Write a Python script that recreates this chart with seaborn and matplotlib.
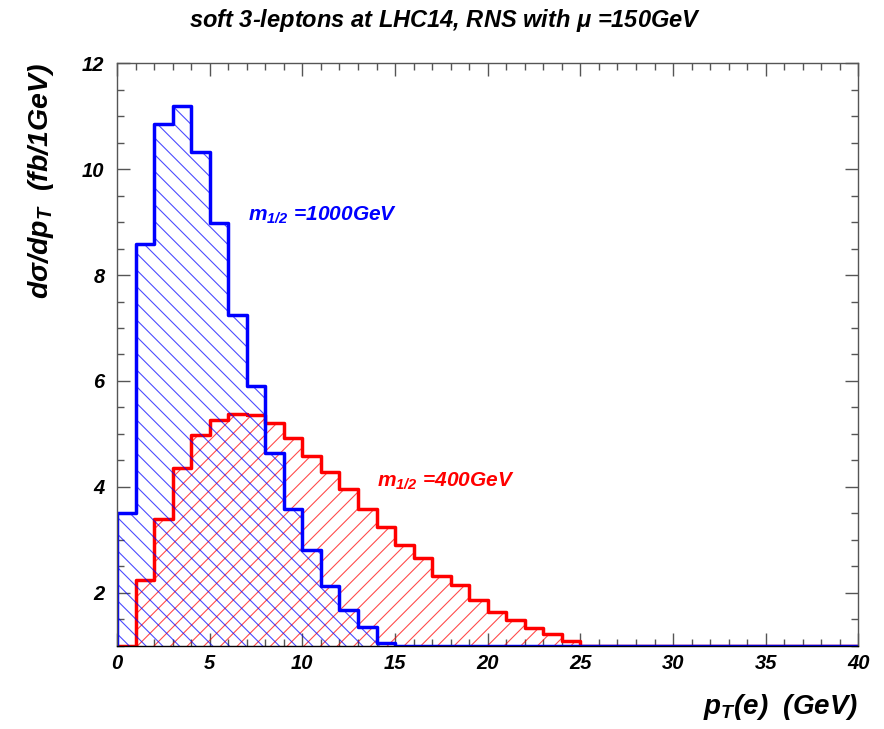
import matplotlib
matplotlib.use('Agg')
import matplotlib.pyplot as plt
import seaborn as sns
import numpy as np
import pandas as pd
from matplotlib.ticker import MultipleLocator

# bins of 1 GeV from 0 to 40
pt_lo, pt_hi = 0, 40
bin_centers = np.arange(pt_lo, pt_hi) + 0.5

# m_1/2 = 1000 GeV (blue) (1.0 = at the bottom of the frame)
dsig_1000 = [3.50, 8.59, 10.86, 11.19, 10.33, 8.98, 7.25, 5.90, 4.63, 3.58,
             2.80, 2.12, 1.67, 1.35, 1.05, 1.0, 1.0, 1.0, 1.0, 1.0,
             1.0, 1.0, 1.0, 1.0, 1.0, 1.0, 1.0, 1.0, 1.0, 1.0,
             1.0, 1.0, 1.0, 1.0, 1.0, 1.0, 1.0, 1.0, 1.0, 1.0]

# m_1/2 = 400 GeV (red)
dsig_400 = [1.0, 2.24, 3.40, 4.35, 4.98, 5.27, 5.38, 5.35, 5.20, 4.93,
            4.59, 4.28, 3.95, 3.59, 3.25, 2.90, 2.65, 2.32, 2.15, 1.87,
            1.64, 1.48, 1.33, 1.22, 1.08, 1.0, 1.0, 1.0, 1.0, 1.0,
            1.0, 1.0, 1.0, 1.0, 1.0, 1.0, 1.0, 1.0, 1.0, 1.0]

x_ticks = [0, 5, 10, 15, 20, 25, 30, 35, 40]
y_ticks = [2, 4, 6, 8, 10, 12]

sns.set_style('ticks')
plt.rcParams['font.family'] = ['Liberation Sans', 'DejaVu Sans']
plt.rcParams['font.weight'] = 'bold'
plt.rcParams['font.style'] = 'italic'
plt.rcParams['axes.labelweight'] = 'bold'
plt.rcParams['text.color'] = 'black'
plt.rcParams['axes.labelcolor'] = 'black'
plt.rcParams['xtick.labelcolor'] = 'black'
plt.rcParams['ytick.labelcolor'] = 'black'
plt.rcParams['mathtext.fontset'] = 'custom'
plt.rcParams['mathtext.rm'] = 'Liberation Sans'
plt.rcParams['mathtext.it'] = 'Liberation Sans:italic:bold'
plt.rcParams['mathtext.bf'] = 'Liberation Sans:bold'
plt.rcParams['mathtext.default'] = 'regular'
plt.rcParams['hatch.linewidth'] = 0.8

fig = plt.figure(figsize=(8.84, 7.29), dpi=100)
ax = fig.add_axes([0.1324, 0.1143, 0.8386, 0.7989])

# red first, blue on top (hatch then outline)
for vals, col, hcol, hatch in [(dsig_400, '#ff0000', (1, 0, 0, 0.7), '//'),
                               (dsig_1000, '#0000ff', (0, 0, 1, 0.7), '\\\\')]:
    df = pd.DataFrame({'pt': bin_centers, 'dsig': vals})
    sns.histplot(data=df, x='pt', weights='dsig', bins=pt_hi - pt_lo,
                 binrange=(pt_lo, pt_hi), element='step', fill=True, color=col,
                 facecolor='none', edgecolor=hcol, linewidth=0, hatch=hatch, ax=ax)
    sns.histplot(data=df, x='pt', weights='dsig', bins=pt_hi - pt_lo,
                 binrange=(pt_lo, pt_hi), element='step', fill=True, color=col,
                 facecolor='none', edgecolor=col, linewidth=2.5, ax=ax)

ax.set_xlim(0, 40)
ax.set_ylim(1, 12)
ax.set_xticks(x_ticks)
ax.set_yticks(y_ticks)
ax.xaxis.set_minor_locator(MultipleLocator(1))
ax.yaxis.set_minor_locator(MultipleLocator(0.5))
ax.tick_params(which='both', direction='in', top=True, right=True,
               color='#555555', width=1)
ax.tick_params(which='major', length=9.5)
ax.tick_params(which='minor', length=5)
ax.tick_params(axis='x', which='major', labelsize=14.5, pad=6)
ax.tick_params(axis='y', which='major', labelsize=14.5, pad=9)
for s in ax.spines.values():
    s.set_color('#555555')
    s.set_linewidth(1)
ax.spines['bottom'].set_color('black')

ax.set_xlabel(r'p$_T$(e)  (GeV)', fontsize=20, loc='right')
ax.xaxis.set_label_coords(1.0, -0.08)
ax.set_ylabel(r'd$\mathrm{\sigma}$/dp$_T$  (fb/1GeV)', fontsize=20.5, loc='top')
ax.yaxis.set_label_coords(-0.083, 1.0)

ax.text(7.07, 9.13, r'm$_{1/2}$ =1000GeV', color='#0000ff', fontsize=15,
        va='center', ha='left')
ax.text(14.0, 4.1, r'm$_{1/2}$ =400GeV', color='#ff0000', fontsize=15,
        va='center', ha='left')

fig.text(0.503, 0.972, r'soft 3-leptons at LHC14, RNS with $\mathrm{\mu}$ =150GeV',
         fontsize=17, ha='center', va='center')

fig.savefig('out.png', dpi=100)
